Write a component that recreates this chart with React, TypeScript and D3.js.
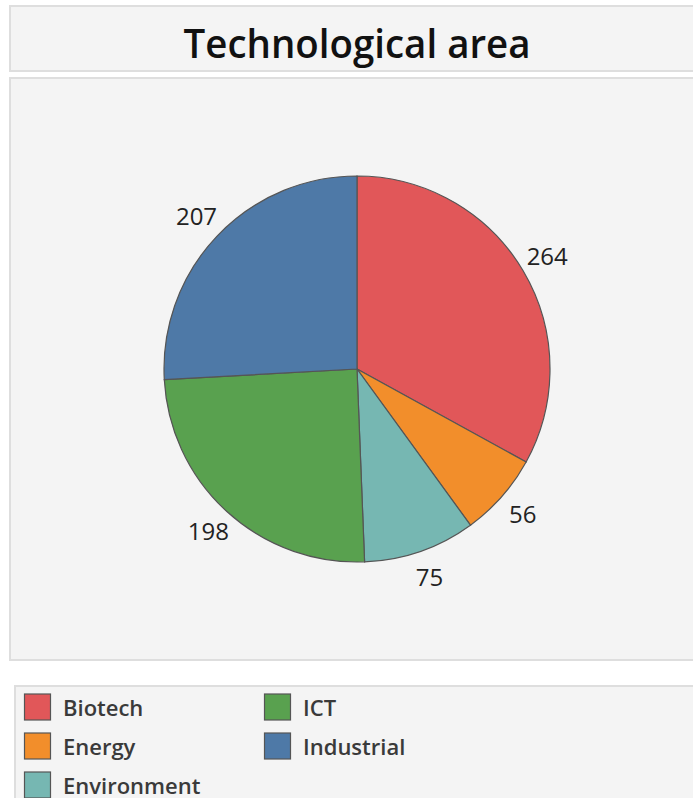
import React from "react";
import * as d3 from "d3";

const categories = ["Biotech", "Energy", "Environment", "ICT", "Industrial"];
const values = [264, 56, 75, 198, 207];
const colors = ["#e15759", "#f28e2b", "#76b7b2", "#59a14f", "#4e79a7"];
const title = "Technological area";

const W = 693;
const H = 798;
const FONT = "'Open Sans', 'Noto Sans', sans-serif";

export default function App() {
  const cx = 357;
  const cy = 369;
  const r = 193;
  const labelR = 221;
  const data = categories.map((c, i) => ({ c, v: values[i], color: colors[i] }));
  const pie = d3.pie<any>().value((d: any) => d.v).sort(null);
  const arcs = pie(data);
  const arcGen = d3.arc<any>().innerRadius(0).outerRadius(r);
  const labelArc = d3.arc<any>().innerRadius(labelR).outerRadius(labelR);

  const legendCols = [24, 264];
  const legendRows = [716, 755, 794];

  return (
    <svg width={W} height={H} style={{ position: "absolute", left: 0, top: 0, background: "#fff" }}>
      <rect x={10} y={6} width={700} height={65} fill="#f4f4f4" stroke="#dedede" strokeWidth={2} />
      <text x={357} y={58} textAnchor="middle" fontFamily={FONT} fontSize={40} fontWeight={600} fill="#111"
        textLength={347} lengthAdjust="spacingAndGlyphs">
        {title}
      </text>
      <rect x={10} y={78} width={700} height={582} fill="#f4f4f4" stroke="#dedede" strokeWidth={2} />
      <g transform={`translate(${cx},${cy})`}>
        {arcs.map((a, i) => (
          <path key={i} d={arcGen(a) as string} fill={a.data.color} stroke="#555" strokeWidth={1.2} />
        ))}
        {arcs.map((a, i) => {
          const [x, y] = labelArc.centroid(a);
          return (
            <text key={"l" + i} x={x} y={y + 8} textAnchor="middle" fontFamily={FONT} fontSize={24} fill="#222">
              {a.data.v}
            </text>
          );
        })}
      </g>
      <rect x={15} y={686} width={700} height={130} fill="#f4f4f4" stroke="#dedede" strokeWidth={2} />
      {data.map((d, i) => {
        const col = Math.floor(i / 3);
        const row = i % 3;
        const x = legendCols[col];
        const y = legendRows[row];
        return (
          <g key={"lg" + i}>
            <rect x={x + 0.5} y={y - 22} width={26} height={26} fill={d.color} stroke="#555" strokeWidth={1.2} />
            <text x={x + 39} y={y} fontFamily={FONT} fontSize={22} fontWeight={600} fill="#3a3a3a">
              {d.c}
            </text>
          </g>
        );
      })}
    </svg>
  );
}
